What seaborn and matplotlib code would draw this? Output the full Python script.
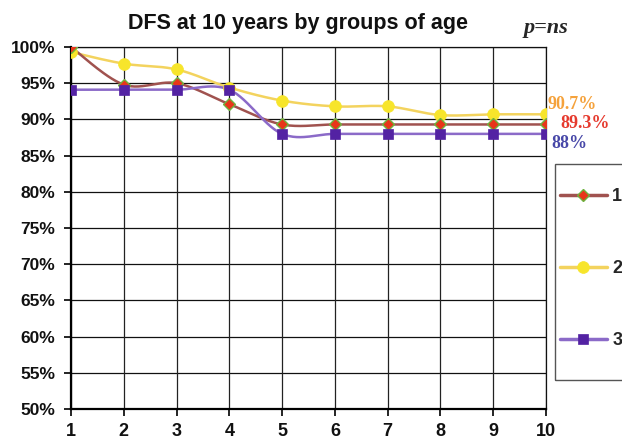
import numpy as np
import pandas as pd
import matplotlib
matplotlib.use("Agg")
import matplotlib.pyplot as plt
import seaborn as sns
from matplotlib.lines import Line2D
from matplotlib.patches import Rectangle

years = [1, 2, 3, 4, 5, 6, 7, 8, 9, 10]
group1 = [100.0, 94.8, 95.0, 92.1, 89.3, 89.3, 89.3, 89.3, 89.3, 89.3]
group2 = [99.3, 97.7, 96.9, 94.4, 92.6, 91.8, 91.8, 90.6, 90.7, 90.7]
group3 = [94.1, 94.1, 94.1, 94.1, 88.0, 88.0, 88.0, 88.0, 88.0, 88.0]
labels = ["1", "2", "3"]
end_labels = ["89.3%", "90.7%", "88%"]
y_ticks = [50, 55, 60, 65, 70, 75, 80, 85, 90, 95, 100]

sns.set_theme(style="white")
plt.rcParams["font.family"] = ["Liberation Sans", "DejaVu Sans"]

fig = plt.figure(figsize=(6.22, 4.42), dpi=100)
ax = fig.add_axes([71 / 622, 33 / 442, 475 / 622, 362 / 442])


def smooth(xs, ys, n=30):
    """Excel-like smoothed line (Bezier through the data points)."""
    xs = np.asarray(xs, float)
    ys = np.asarray(ys, float)
    px = np.concatenate([[xs[0]], xs, [xs[-1]]])
    py = np.concatenate([[ys[0]], ys, [ys[-1]]])
    outx, outy = [], []
    t = np.linspace(0, 1, n)
    for i in range(1, len(px) - 2):
        p0 = np.array([px[i], py[i]])
        p3 = np.array([px[i + 1], py[i + 1]])
        c1 = p0 + (np.array([px[i + 1], py[i + 1]]) - np.array([px[i - 1], py[i - 1]])) / 6
        c2 = p3 - (np.array([px[i + 2], py[i + 2]]) - np.array([px[i], py[i]])) / 6
        pts = ((1 - t) ** 3)[:, None] * p0 + (3 * (1 - t) ** 2 * t)[:, None] * c1 \
            + (3 * (1 - t) * t ** 2)[:, None] * c2 + (t ** 3)[:, None] * p3
        outx.extend(pts[:, 0])
        outy.extend(pts[:, 1])
    return outx, outy


series = [
    dict(vals=group1, line="#A0524F", marker="D", mfc="#E8351A", mec="#6DB33F", ms=6.5, mew=1.0),
    dict(vals=group2, line="#F3D35E", marker="o", mfc="#F7E52B", mec="#F7E52B", ms=8.5, mew=0.5),
    dict(vals=group3, line="#8B6AC8", marker="s", mfc="#5322A3", mec="#5322A3", ms=7.5, mew=0.5),
]

# grid
for yv in y_ticks:
    ax.axhline(yv, color="#111111", lw=0.9, zorder=1)
for xv in years:
    ax.axvline(xv, color="#222222", lw=0.9, zorder=1)

for s in [series[1], series[0], series[2]]:
    sx, sy = smooth(years, s["vals"])
    df = pd.DataFrame({"x": sx, "y": sy})
    sns.lineplot(data=df, x="x", y="y", ax=ax, color=s["line"], lw=1.8,
                 sort=False, estimator=None, zorder=3)
for s in [series[1], series[0], series[2]]:
    df = pd.DataFrame({"x": years, "y": s["vals"]})
    ax.plot(df["x"], df["y"], linestyle="none", marker=s["marker"],
            markersize=s["ms"], markerfacecolor=s["mfc"], markeredgecolor=s["mec"],
            markeredgewidth=s["mew"], zorder=5)

ax.set_xlim(1, 10)
ax.set_ylim(50, 100)
ax.set_xticks(years)
ax.set_xticklabels([str(y) for y in years], fontsize=13, fontweight="bold")
ax.set_yticks(y_ticks)
ax.set_yticklabels([f"{v}%" for v in y_ticks], fontsize=12.5, fontweight="bold")
ax.tick_params(axis="both", which="both", direction="out", length=5, width=1.2,
               color="black", left=True, bottom=True, labelcolor="#111111")
ax.tick_params(axis="y", pad=6.5)
ax.tick_params(axis="x", pad=5)
ax.set_xlabel("")
ax.set_ylabel("")
for side in ["left", "bottom"]:
    ax.spines[side].set_color("black")
    ax.spines[side].set_linewidth(1.6)
for side in ["top", "right"]:
    ax.spines[side].set_color("#111111")
    ax.spines[side].set_linewidth(0.9)
for sp in ax.spines.values():
    sp.set_zorder(2)

# title and p-value
fig.text(298 / 622, 1 - 29.5 / 442, "DFS at 10 years by groups of age", ha="center", va="baseline",
         fontsize=15.5, fontweight="bold", color="#111111")
fig.text(546 / 622, 1 - 33 / 442, "p=ns", ha="center", va="baseline", fontsize=16,
         fontweight="bold", style="italic", family=["Liberation Serif", "DejaVu Serif"])

# end labels
serif = ["Liberation Serif", "DejaVu Serif"]
fig.text(548 / 622, 1 - 104.5 / 442, "90.7%", ha="left", va="center", fontsize=13, fontweight="bold",
         color="#F5A23C", family=serif)
fig.text(560 / 622, 1 - 123.5 / 442, "89.3%", ha="left", va="center", fontsize=13, fontweight="bold",
         color="#E63A2E", family=serif)
fig.text(551 / 622, 1 - 143.5 / 442, "88%", ha="left", va="center", fontsize=13, fontweight="bold",
         color="#4848A8", family=serif)

# legend box
fig.patches.append(Rectangle((555 / 622, 1 - 380 / 442), 80 / 622, 216 / 442,
                             transform=fig.transFigure, fill=False, edgecolor="#555555",
                             lw=1.0, zorder=1))
handles = [Line2D([0], [0], color=s["line"], lw=2.5, marker=s["marker"], markersize=s["ms"],
                  markerfacecolor=s["mfc"], markeredgecolor=s["mec"], markeredgewidth=s["mew"])
           for s in series]
leg = fig.legend(handles, labels, loc="upper left", bbox_to_anchor=(560 / 622, 1 - 188 / 442),
                 frameon=False, prop={"weight": "bold", "size": 13},
                 handlelength=2.6, handletextpad=0.3, labelspacing=3.05, borderpad=0.0,
                 borderaxespad=0.0)

fig.savefig("out.png", dpi=100)
